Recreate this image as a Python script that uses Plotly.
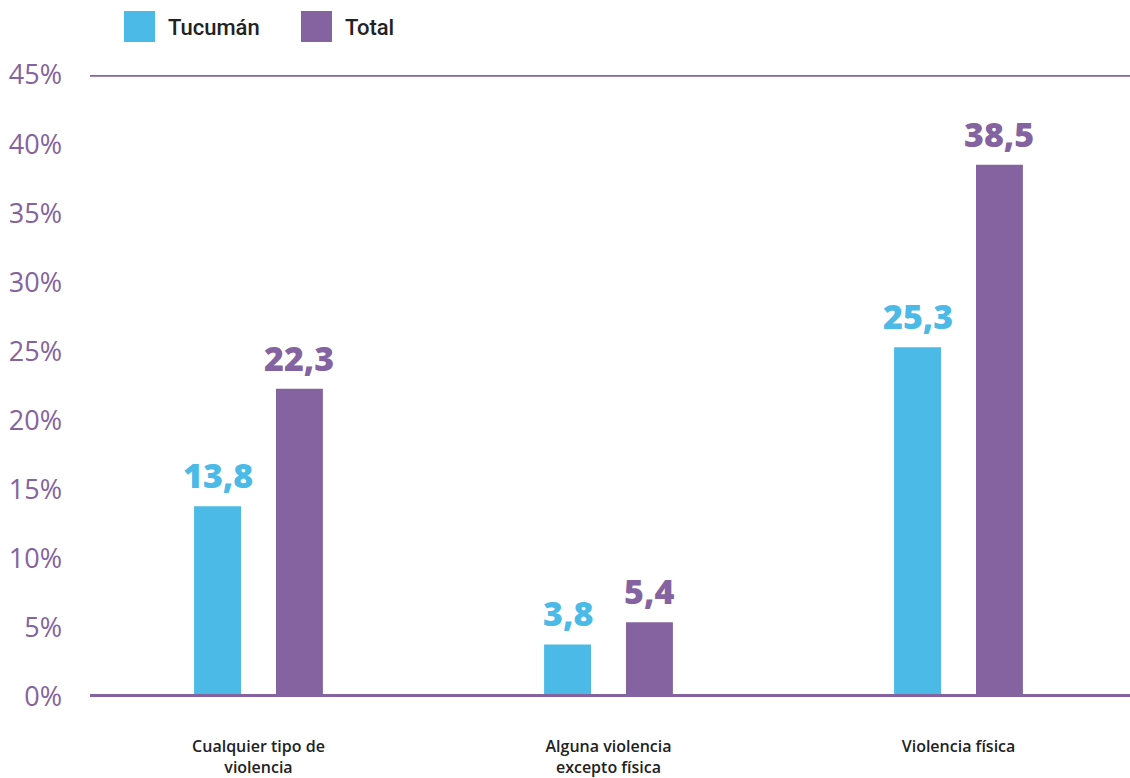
import plotly.graph_objects as go

categories = ["Cualquier tipo de<br>violencia", "Alguna violencia<br>excepto física", "Violencia física"]
series_names = ["Tucumán", "Total"]
tucuman = [13.8, 3.8, 25.3]
total = [22.3, 5.4, 38.5]
y_ticks = [0, 5, 10, 15, 20, 25, 30, 35, 40, 45]
y_tick_labels = [f"{v}%" for v in y_ticks]

BLUE = "#4BBAE6"
PURPLE = "#8463A0"
DARK = "#222222"

xpos = list(range(len(categories)))
bw = 0.134
sep = 0.117

fig = go.Figure()
for name, vals, color, off in [(series_names[0], tucuman, BLUE, -sep), (series_names[1], total, PURPLE, sep)]:
    fig.add_trace(go.Bar(
        x=xpos, y=vals, name=name, marker=dict(color=color, line=dict(width=0)),
        width=bw, offset=off - bw / 2, showlegend=False, hoverinfo="skip",
    ))
    for xi, v in zip(xpos, vals):
        fig.add_annotation(
            x=xi + off, y=v, xref="x", yref="y", text=f"{v:.1f}".replace(".", ","),
            showarrow=False, yanchor="bottom", yshift=6,
            font=dict(family="Open Sans", size=34, color=color, weight=800),
        )

# Custom legend
legend_items = [(series_names[0], BLUE, 124, 168), (series_names[1], PURPLE, 301, 345)]
L, W = 90, 1040
T, B = 75, 81
y0px, pxh = 778 - B, 778 - B - T
def px_x(p):
    return (p - L) / W
def px_y(p):
    return (y0px - p) / pxh
for name, color, sx, tx in legend_items:
    fig.add_shape(type="rect", xref="paper", yref="paper",
                  x0=px_x(sx), x1=px_x(sx + 31), y0=px_y(42), y1=px_y(11),
                  fillcolor=color, line=dict(width=0))
    fig.add_annotation(xref="paper", yref="paper", x=px_x(tx - 2), y=px_y(27),
                       xanchor="left", yanchor="middle", showarrow=False, text=name,
                       font=dict(family="Roboto", size=22, color=DARK, weight=500))

# Lines at 0 and 45
fig.add_shape(type="line", xref="paper", yref="y", x0=0, x1=1, y0=45, y1=45,
              line=dict(color=PURPLE, width=3.5), layer="above")
fig.add_shape(type="line", xref="paper", yref="y", x0=0, x1=1, y0=0, y1=0,
              line=dict(color=PURPLE, width=6), layer="above")

fig.update_layout(
    width=1130, height=778,
    margin=dict(l=L, r=0, t=T, b=B, autoexpand=False),
    plot_bgcolor="white", paper_bgcolor="white",
    showlegend=False,
    xaxis=dict(
        range=[-0.4814, 2.49], tickvals=xpos, ticktext=categories,
        showgrid=False, zeroline=False, showline=False, ticks="",
        ticklabelstandoff=38,
        tickfont=dict(family="Open Sans", size=16, color=DARK, weight=600),
    ),
    yaxis=dict(
        range=[0, 45], tickvals=y_ticks, ticktext=y_tick_labels,
        showgrid=False, zeroline=False, showline=False, ticks="",
        ticklabelstandoff=27,
        tickfont=dict(family="Open Sans", size=27, color=PURPLE, weight=400),
    ),
)

fig.write_html("out.html", config={"displayModeBar": False},
               post_script="document.body.style.margin='0';document.body.style.overflow='hidden';")
